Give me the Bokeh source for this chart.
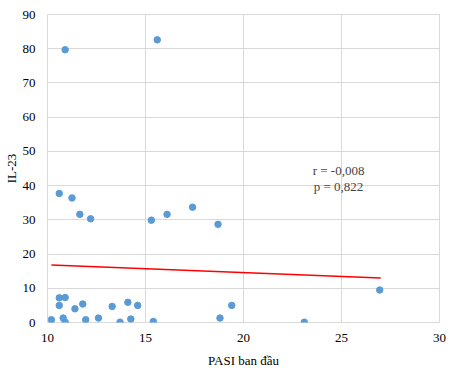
from bokeh.plotting import figure
from bokeh.models import Label, FixedTicker
from bokeh.embed import file_html
from bokeh.resources import INLINE

pasi = [10.9, 15.6, 10.6, 11.25, 11.65, 12.2, 15.3, 16.1, 17.4, 18.7,
        10.6, 10.9, 10.6, 11.4, 11.8, 10.2, 10.8, 10.9, 11.95, 12.6,
        13.3, 13.7, 14.1, 14.25, 14.6, 15.4, 18.8, 19.4, 23.1, 26.95]
il23 = [79.7, 82.6, 37.7, 36.4, 31.6, 30.3, 29.9, 31.6, 33.7, 28.7,
        7.2, 7.3, 5.0, 4.0, 5.4, 0.8, 1.3, 0.1, 0.8, 1.3,
        4.7, 0.1, 5.9, 1.0, 5.0, 0.3, 1.3, 5.0, 0.1, 9.5]
trend_x = [10.2, 27.0]
trend_y = [16.8, 13.0]
x_ticks = [10, 15, 20, 25, 30]
y_ticks = [0, 10, 20, 30, 40, 50, 60, 70, 80, 90]
stat_lines = ["r = -0,008", "p = 0,822"]

FONT = "Liberation Serif"
GRID = "#d9d9d9"

p = figure(frame_width=392, frame_height=308, output_backend="svg", toolbar_location=None,
           x_range=(10, 30), y_range=(0, 90),
           min_border_left=0, min_border_right=8, min_border_top=14, min_border_bottom=0)
p.outline_line_color = GRID
p.outline_line_width = 1

p.line(trend_x, trend_y, line_color="#ff0000", line_width=1.5)
p.scatter(pasi, il23, size=6.5, fill_color="#5b9bd5", line_color="#5b9bd5")

for ax in (p.xaxis[0], p.yaxis[0]):
    ax.axis_line_color = None
    ax.major_tick_line_color = None
    ax.minor_tick_line_color = None
    ax.major_label_text_font = FONT
    ax.major_label_text_font_size = "13px"
    ax.major_label_text_color = "#000000"
    ax.axis_label_text_font = FONT
    ax.axis_label_text_font_size = "13px"
    ax.axis_label_text_font_style = "normal"
    ax.axis_label_text_color = "#000000"

p.xaxis.ticker = FixedTicker(ticks=x_ticks)
p.yaxis.ticker = FixedTicker(ticks=y_ticks)
p.xaxis.axis_label = "PASI ban đầu"
p.yaxis.axis_label = "IL-23"
p.xaxis.major_label_standoff = 5
p.xaxis.axis_label_standoff = 8
p.yaxis.major_label_standoff = 6
p.yaxis.axis_label_standoff = 1

p.xgrid.ticker = FixedTicker(ticks=x_ticks)
p.ygrid.ticker = FixedTicker(ticks=y_ticks)
p.xgrid.grid_line_color = GRID
p.ygrid.grid_line_color = GRID

p.add_layout(Label(x=24.85, y=44.3, text=stat_lines[0], text_align="center",
                   text_baseline="middle", text_font=FONT, text_font_size="13px"))
p.add_layout(Label(x=24.85, y=39.6, text=stat_lines[1], text_align="center",
                   text_baseline="middle", text_font=FONT, text_font_size="13px"))

open("out.html", "w").write(file_html(p, INLINE))
